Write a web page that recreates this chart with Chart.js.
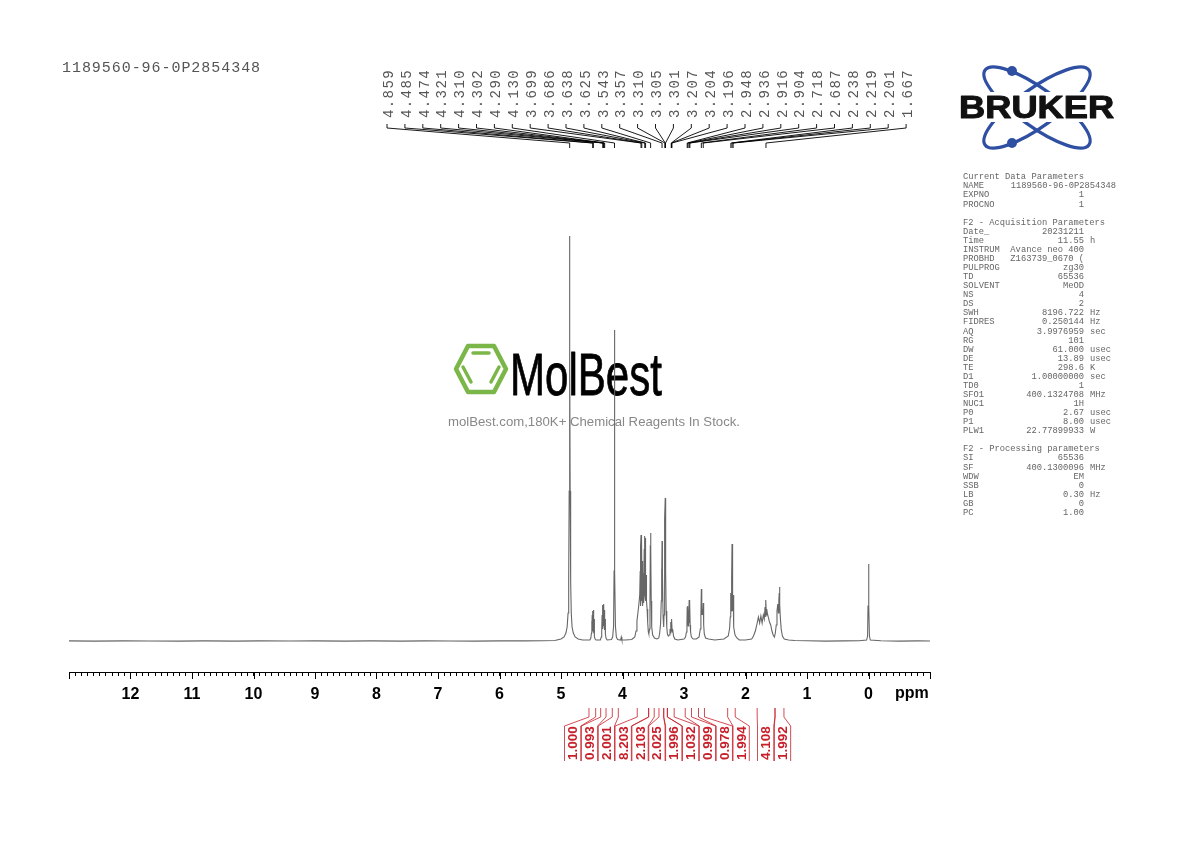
<!DOCTYPE html>
<html>
<head>
<meta charset="utf-8">
<title>1189560-96-0P2854348</title>
<script src="https://cdn.jsdelivr.net/npm/chart.js@4/dist/chart.umd.min.js"></script>
<style>
  html, body { margin: 0; padding: 0; background: #fff; }
  canvas { display: block; }
</style>
</head>
<body>
<canvas id="spectrum" width="1190" height="842"></canvas>
<script>
// spectrum: ppm and height above the baseline
const ppmValues = [
  13, 12.6, 12.1, 11.7, 11.2, 10.8, 10.3, 9.9, 9.4, 9, 8.5, 8.1, 7.6, 7.2, 6.8, 6.4, 6, 5.6, 5.3,
  5.1, 5, 4.95, 4.92, 4.9, 4.885, 4.875, 4.867, 4.863, 4.859, 4.855, 4.851, 4.843, 4.833, 4.82, 4.8, 4.77, 4.72, 4.65,
  4.53, 4.515, 4.505, 4.5, 4.497, 4.493, 4.49, 4.486, 4.483, 4.48, 4.477, 4.474, 4.471, 4.468, 4.465, 4.462, 4.459, 4.455, 4.445, 4.43,
  4.36, 4.345, 4.338, 4.332, 4.329, 4.325, 4.321, 4.318, 4.314, 4.31, 4.306, 4.302, 4.298, 4.295, 4.29, 4.287, 4.283, 4.278, 4.268, 4.25,
  4.18, 4.16, 4.145, 4.137, 4.133, 4.13, 4.127, 4.123, 4.115, 4.1, 4.08, 4.03, 4.02, 4.01, 3.95,
  3.85, 3.8, 3.78, 3.765, 3.75, 3.735, 3.72, 3.712, 3.708, 3.704, 3.699, 3.695, 3.691, 3.686, 3.682, 3.678, 3.672, 3.668,
  3.664, 3.66, 3.656, 3.651, 3.647, 3.642, 3.638, 3.634, 3.63, 3.625, 3.621, 3.617, 3.61, 3.6, 3.59, 3.58, 3.572,
  3.56, 3.553, 3.548, 3.543, 3.538, 3.533, 3.525, 3.51, 3.48, 3.44,
  3.41, 3.395, 3.38, 3.37, 3.365, 3.361, 3.357, 3.353, 3.349, 3.34, 3.33, 3.325, 3.32, 3.315, 3.31, 3.305, 3.301, 3.296, 3.29, 3.28, 3.27, 3.255,
  3.24, 3.228, 3.222, 3.215, 3.211, 3.207, 3.204, 3.2, 3.196, 3.192, 3.185, 3.17, 3.15, 3.1, 3,
  2.975, 2.96, 2.952, 2.948, 2.945, 2.94, 2.936, 2.932, 2.928, 2.922, 2.916, 2.912, 2.908, 2.904, 2.9, 2.893, 2.88, 2.85, 2.8,
  2.755, 2.735, 2.725, 2.718, 2.711, 2.705, 2.695, 2.687, 2.68, 2.67, 2.65, 2.6, 2.5, 2.35,
  2.28, 2.258, 2.248, 2.242, 2.238, 2.233, 2.228, 2.223, 2.219, 2.215, 2.21, 2.205, 2.201, 2.196, 2.188, 2.17, 2.14, 2.1, 2, 1.9,
  1.87, 1.84, 1.81, 1.79, 1.77, 1.75, 1.73, 1.71, 1.695, 1.682, 1.675, 1.667, 1.66, 1.655, 1.645, 1.63, 1.61, 1.59, 1.57, 1.55,
  1.53, 1.515, 1.5, 1.488, 1.475, 1.465, 1.458, 1.452, 1.447, 1.441, 1.432, 1.42, 1.4, 1.37, 1.3, 1.2, 1, 0.7, 0.4, 0.15,
  0.03, 0.015, 0.008, 0, -0.008, -0.015, -0.03, -0.2, -0.5, -0.8, -1
];
const intensityValues = [
  0.1, -0.1, 0.1, 0, -0.1, 0.1, -0.1, 0.1, 0, 0.1, -0.1, 0.1, -0.1, 0.1, 0, -0.1, 0.1, 0.1, 0.3,
  0.5, 2, 4, 8, 14, 28, 60, 150, 290, 405, 290, 150, 60, 28, 14, 8, 4, 2, 1,
  1, 3, 8, 20, 9, 26, 10, 30, 11, 20, 10, 31, 11, 24, 9, 22, 8, 4, 2, 1,
  1, 4, 10, 26, 12, 34, 36, 15, 34, 37, 15, 36, 14, 30, 31, 11, 22, 7, 3, 1,
  1.5, 4, 15, 70, 200, 311, 200, 70, 15, 4, 1.5, 1, 4, 1, 1,
  1.5, 4, 10, 20, 28, 36, 46, 70, 35, 95, 106, 40, 88, 104, 42, 80, 50, 35,
  60, 38, 68, 44, 92, 45, 105, 44, 90, 103, 40, 66, 40, 32, 18, 9, 7,
  12, 40, 92, 108, 90, 40, 14, 6, 3, 2,
  3, 8, 18, 40, 72, 55, 100, 50, 70, 24, 14, 26, 55, 90, 122, 143, 128, 70, 30, 14, 7, 5,
  6, 12, 8, 19, 10, 22, 12, 20, 21, 9, 12, 5, 2, 1, 2,
  4, 9, 18, 34, 16, 30, 35, 15, 24, 16, 41, 18, 33, 38, 16, 9, 4, 2, 2,
  4, 12, 26, 52, 26, 32, 26, 38, 16, 7, 3, 2, 1, 2,
  5, 13, 24, 38, 48, 30, 38, 62, 97, 50, 36, 30, 46, 22, 14, 6, 3, 1, 1, 2,
  5, 10, 18, 24, 18, 25, 18, 26, 22, 34, 24, 41, 26, 32, 28, 24, 19, 16, 10, 6,
  4, 8, 16, 30, 37, 28, 40, 48, 54, 36, 22, 12, 5, 2, 1, 0.5, 0.2, -0.1, 0.1, 0.3,
  1, 5, 35, 77, 35, 5, 1, 0.2, -0.1, 0.1, 0
];

const axisTickLabels = [12, 11, 10, 9, 8, 7, 6, 5, 4, 3, 2, 1, 0];

const peakShifts = [
  4.859, 4.485, 4.474, 4.321, 4.310, 4.302, 4.290, 4.130, 3.699, 3.686,
  3.638, 3.625, 3.543, 3.357, 3.310, 3.305, 3.301, 3.207, 3.204, 3.196,
  2.948, 2.936, 2.916, 2.904, 2.718, 2.687, 2.238, 2.219, 2.201, 1.667
];

const integralValues = ['1.000', '0.993', '2.001', '8.203', '2.103', '2.025', '1.996', '1.032', '0.999', '0.978', '1.994', '4.108', '1.992'];
const integralFrom = [4.545, 4.355, 4.166, 3.76, 3.575, 3.407, 3.33, 3.27, 2.98, 2.764, 2.29, 1.81, 1.52];
const integralTo = [4.436, 4.268, 4.068, 3.575, 3.484, 3.33, 3.27, 3.16, 2.878, 2.667, 2.167, 1.52, 1.375];

const sampleName = '1189560-96-0P2854348';

const paramRows = [
  ['Current Data Parameters'],
  ['NAME', sampleName],
  ['EXPNO', '1'],
  ['PROCNO', '1'],
  [],
  ['F2 - Acquisition Parameters'],
  ['Date_', '20231211'],
  ['Time', '11.55', 'h'],
  ['INSTRUM', 'Avance neo 400'],
  ['PROBHD', 'Z163739_0670 ('],
  ['PULPROG', 'zg30'],
  ['TD', '65536'],
  ['SOLVENT', 'MeOD'],
  ['NS', '4'],
  ['DS', '2'],
  ['SWH', '8196.722', 'Hz'],
  ['FIDRES', '0.250144', 'Hz'],
  ['AQ', '3.9976959', 'sec'],
  ['RG', '101'],
  ['DW', '61.000', 'usec'],
  ['DE', '13.89', 'usec'],
  ['TE', '298.6', 'K'],
  ['D1', '1.00000000', 'sec'],
  ['TD0', '1'],
  ['SFO1', '400.1324708', 'MHz'],
  ['NUC1', '1H'],
  ['P0', '2.67', 'usec'],
  ['P1', '8.00', 'usec'],
  ['PLW1', '22.77899933', 'W'],
  [],
  ['F2 - Processing parameters'],
  ['SI', '65536'],
  ['SF', '400.1300096', 'MHz'],
  ['WDW', 'EM'],
  ['SSB', '0'],
  ['LB', '0.30', 'Hz'],
  ['GB', '0'],
  ['PC', '1.00']
];

function polyline(ctx, pts) {
  ctx.beginPath();
  pts.forEach((p, i) => i ? ctx.lineTo(p[0], p[1]) : ctx.moveTo(p[0], p[1]));
  ctx.stroke();
}

function drawWatermark(ctx) {
  // hexagon
  ctx.strokeStyle = '#7ab648';
  ctx.lineWidth = 4.5;
  ctx.lineJoin = 'round';
  ctx.lineCap = 'round';
  ctx.beginPath();
  [[456, 369], [468, 346], [494, 346], [506, 369], [494, 392], [468, 392]].forEach((p, i) => i ? ctx.lineTo(p[0], p[1]) : ctx.moveTo(p[0], p[1]));
  ctx.closePath();
  ctx.stroke();
  ctx.lineWidth = 3.5;
  polyline(ctx, [[473, 353], [489, 353]]);
  polyline(ctx, [[463, 367], [471, 382]]);
  polyline(ctx, [[499, 367], [491, 382]]);
  ctx.lineCap = 'butt';

  ctx.fillStyle = '#000';
  ctx.strokeStyle = '#000';
  ctx.lineWidth = 0.8;
  ctx.font = '60px "Liberation Sans"';
  ctx.textAlign = 'left';
  ctx.textBaseline = 'alphabetic';
  ctx.fillText('MolBest', 510, 395, 152);
  ctx.strokeText('MolBest', 510, 395, 152);

  ctx.fillStyle = '#888';
  ctx.font = '13.4px "Liberation Sans"';
  ctx.fillText('molBest.com,180K+ Chemical Reagents In Stock.', 448, 426, 292);
}

function drawBruker(ctx) {
  ctx.strokeStyle = '#2f4fa3';
  ctx.lineWidth = 3.2;
  [0.625, -0.625].forEach(angle => {
    ctx.beginPath();
    ctx.ellipse(1037, 107.5, 64, 19, angle, 0, Math.PI * 2);
    ctx.stroke();
  });
  ctx.fillStyle = '#2f4fa3';
  [[1012, 71], [1012, 143]].forEach(p => {
    ctx.beginPath();
    ctx.arc(p[0], p[1], 5, 0, Math.PI * 2);
    ctx.fill();
  });
  ctx.fillStyle = '#fff';
  ctx.fillRect(955, 92, 164, 30);

  ctx.save();
  ctx.translate(959, 118);
  ctx.scale(1.17, 1);
  ctx.fillStyle = '#111';
  ctx.strokeStyle = '#111';
  ctx.lineWidth = 1;
  ctx.font = 'bold 31px "Liberation Sans"';
  ctx.textAlign = 'left';
  ctx.textBaseline = 'alphabetic';
  ctx.fillText('BRUKER', 0, 0);
  ctx.strokeText('BRUKER', 0, 0);
  ctx.restore();
}

function drawParams(ctx) {
  ctx.fillStyle = '#666';
  ctx.font = '8.77px "Liberation Mono"';
  ctx.textBaseline = 'middle';
  paramRows.forEach((row, i) => {
    const y = 177 + i * 9.07;
    if (row[0]) {
      ctx.textAlign = 'left';
      ctx.fillText(row[0], 963, y);
    }
    if (row[1]) {
      ctx.textAlign = 'right';
      ctx.fillText(row[1], row[1] === sampleName ? 1116 : 1084, y);
    }
    if (row[2]) {
      ctx.textAlign = 'left';
      ctx.fillText(row[2], 1090, y);
    }
  });
}

function drawPeakLabels(ctx, xScale) {
  ctx.strokeStyle = '#000';
  ctx.lineWidth = 0.9;
  ctx.fillStyle = '#555';
  ctx.font = '14px "Liberation Mono"';
  ctx.letterSpacing = '1.4px';
  peakShifts.forEach((ppm, i) => {
    const top = 387 + i * 17.9;
    const px = xScale.getPixelForValue(ppm);
    polyline(ctx, [[top, 124], [top, 128], [px, 143], [px, 148]]);
    ctx.save();
    ctx.translate(top + 2, 118);
    ctx.rotate(-Math.PI / 2);
    ctx.textAlign = 'left';
    ctx.textBaseline = 'middle';
    ctx.fillText(ppm.toFixed(3), 0, 0);
    ctx.restore();
  });
  ctx.letterSpacing = '0px';
}

function drawIntegrals(ctx, xScale) {
  ctx.strokeStyle = '#c8202a';
  ctx.fillStyle = '#c8202a';
  ctx.lineWidth = 0.8;
  ctx.font = 'bold 13.5px "Liberation Sans"';
  integralValues.forEach((label, i) => {
    // the last two labels sit a bit further right than the even run before them
    const left = i < 11 ? 564.5 + i * 16.85 : 757.5 + (i - 11) * 16.85;
    const right = left + 16.3;
    const a = xScale.getPixelForValue(integralFrom[i]);
    const b = xScale.getPixelForValue(integralTo[i]);
    polyline(ctx, [[a, 708], [a, 717], [left, 726], [left, 761]]);
    polyline(ctx, [[b, 708], [b, 717], [right, 726], [right, 761]]);
    ctx.save();
    ctx.translate((left + right) / 2 + 0.8, 760);
    ctx.rotate(-Math.PI / 2);
    ctx.textAlign = 'left';
    ctx.textBaseline = 'middle';
    ctx.fillText(label, 0, 0);
    ctx.restore();
  });
}

const decorations = {
  id: 'decorations',
  beforeDatasetsDraw(chart) {
    drawWatermark(chart.ctx);
  },
  afterDraw(chart) {
    const ctx = chart.ctx;
    const x = chart.scales.x;
    ctx.save();

    // longer ticks on the whole ppm values
    ctx.strokeStyle = '#000';
    ctx.lineWidth = 1;
    [13, ...axisTickLabels, -1].forEach(v => {
      const px = Math.round(x.getPixelForValue(v)) + 0.5;
      polyline(ctx, [[px, x.top], [px, x.top + 7]]);
    });

    ctx.fillStyle = '#000';
    ctx.font = 'bold 16px "Liberation Sans"';
    ctx.textAlign = 'left';
    ctx.textBaseline = 'middle';
    ctx.fillText('ppm', 895, 694);

    ctx.fillStyle = '#555';
    ctx.font = '15px "Liberation Mono"';
    ctx.letterSpacing = '0.95px';
    ctx.fillText(sampleName, 62, 68);
    ctx.letterSpacing = '0px';

    drawPeakLabels(ctx, x);
    drawIntegrals(ctx, x);
    drawBruker(ctx);
    drawParams(ctx);
    ctx.restore();
  }
};

new Chart(document.getElementById('spectrum'), {
  type: 'line',
  data: {
    datasets: [{
      data: ppmValues.map((ppm, i) => ({ x: ppm, y: intensityValues[i] })),
      borderColor: '#666',
      borderWidth: 1.1,
      pointRadius: 0,
      tension: 0,
      fill: false
    }]
  },
  options: {
    responsive: false,
    animation: false,
    devicePixelRatio: 1,
    layout: { padding: { left: 69, right: 260, top: 200, bottom: 0 } },
    plugins: { legend: { display: false }, tooltip: { enabled: false } },
    scales: {
      x: {
        type: 'linear',
        reverse: true,
        min: -1,
        max: 13,
        afterFit: scale => { scale.height = 170; },
        border: { color: '#000', width: 1 },
        grid: { drawOnChartArea: false, drawTicks: true, tickLength: 4, tickColor: '#000', tickWidth: 1 },
        ticks: {
          stepSize: 0.1,
          autoSkip: false,
          maxRotation: 0,
          padding: 9,
          color: '#000',
          font: { family: '"Liberation Sans"', size: 16, weight: 'bold' },
          callback: v => axisTickLabels.includes(v) ? String(v) : ''
        }
      },
      y: { display: false, min: -31, max: 441 }
    }
  },
  plugins: [decorations]
});
</script>
</body>
</html>
